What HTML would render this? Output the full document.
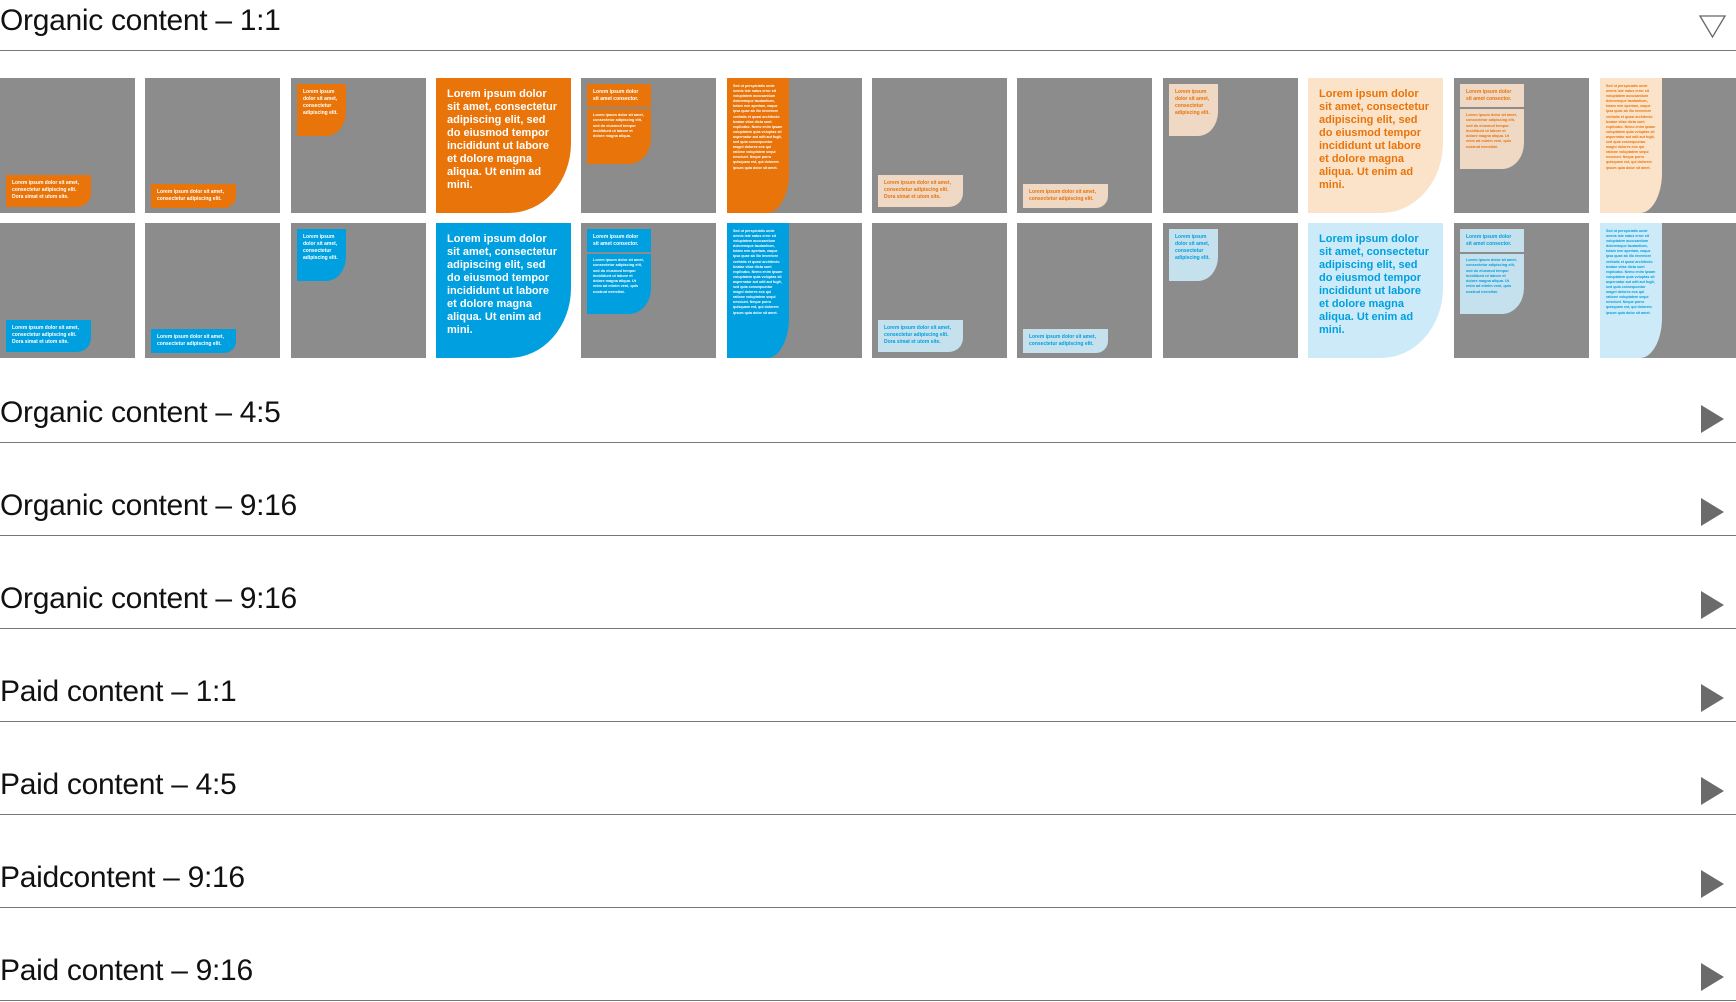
<!DOCTYPE html>
<html><head><meta charset="utf-8">
<style>
body{margin:0;width:1736px;height:1002px;background:#fff;position:relative;overflow:hidden;font-family:"Liberation Sans",Arial,sans-serif}
.h{position:absolute;left:0;font-size:30px;color:#111;line-height:34px;letter-spacing:-0.3px}
.ln{position:absolute;left:0;width:1736px;height:1px;background:#777}
.play{position:absolute;left:1701px;width:0;height:0;border-top:14px solid transparent;border-bottom:14px solid transparent;border-left:23px solid #6b6b6b}
.t{position:absolute;width:135px;height:135px;background:#8c8c8c;overflow:hidden}
.b{position:absolute;overflow:hidden;font-weight:bold}
.s{font-size:5px;line-height:7px;padding:5px 6px}
.big{font-size:11px;line-height:13px;padding:10px 11px;font-weight:bold}
.tiny{font-size:3.6px;line-height:5.1px;padding:6px 6px;font-weight:bold}
.o{background:#e9740a;color:#fff}.lo{background:#fbe3ca;color:#e9740a}.to{background:#efd8c4;color:#e9740a}
.u{background:#009fdf;color:#fff}.lu{background:#cceaf7;color:#009fdf}.tu{background:#c5e1ee;color:#009fdf}
.sep{height:2px;background:#8c8c8c;margin:0 -6px}
</style></head><body>
<div class="h" style="top:4px">Organic content – 1:1</div>
<svg style="position:absolute;left:1699px;top:15px" width="28" height="24"><polygon points="1,1 26,1 13.5,22" fill="none" stroke="#666" stroke-width="1.3"/></svg>
<div class="ln" style="top:50px"></div>

<!-- Row 1 -->
<div class="t" style="left:0;top:78px"><div class="b o s" style="left:6px;top:97px;width:73px;height:22px;border-bottom-right-radius:14px">Lorem ipsum dolor sit amet, consectetur adipiscing elit. Dora simat et utom site.</div></div>
<div class="t" style="left:145px;top:78px"><div class="b o s" style="left:6px;top:106px;width:73px;height:14px;border-bottom-right-radius:12px">Lorem ipsum dolor sit amet, consectetur adipiscing elit.</div></div>
<div class="t" style="left:291px;top:78px"><div class="b o s" style="left:6px;top:6px;width:37px;height:42px;border-bottom-right-radius:20px 24px">Lorem ipsum dolor sit amet, consectetur adipiscing elit.</div></div>
<div class="t o big" style="left:436px;top:78px;width:113px;height:115px;border-bottom-right-radius:62px 70px">Lorem ipsum dolor sit amet, consectetur adipiscing elit, sed do eiusmod tempor incididunt ut labore et dolore magna aliqua. Ut enim ad mini.</div>
<div class="t" style="left:581px;top:78px"><div class="b o s" style="left:6px;top:6px;width:52px;height:70px;border-bottom-right-radius:22px 26px">Lorem ipsum dolor sit amet consector.<div class="sep" style="margin:4px -6px 4px"></div><span style="font-size:3.8px;line-height:5.3px;display:block">Lorem ipsum dolor sit amet, consectetur adipiscing elit, sed do eiusmod tempor incididunt ut labore et dolore magna aliqua.</span></div></div>
<div class="t" style="left:727px;top:78px"><div class="b o tiny" style="left:0;top:0;width:50px;height:123px;border-bottom-right-radius:22px 40px">Sed ut perspiciatis unde omnis iste natus error sit voluptatem accusantium doloremque laudantium, totam rem aperiam, eaque ipsa quae ab illo inventore veritatis et quasi architecto beatae vitae dicta sunt explicabo. Nemo enim ipsam voluptatem quia voluptas sit aspernatur aut odit aut fugit, sed quia consequuntur magni dolores eos qui ratione voluptatem sequi nesciunt. Neque porro quisquam est, qui dolorem ipsum quia dolor sit amet.</div></div>
<div class="t" style="left:872px;top:78px"><div class="b to s" style="left:6px;top:97px;width:73px;height:22px;border-bottom-right-radius:14px">Lorem ipsum dolor sit amet, consectetur adipiscing elit. Dora simat et utom site.</div></div>
<div class="t" style="left:1017px;top:78px"><div class="b to s" style="left:6px;top:106px;width:73px;height:14px;border-bottom-right-radius:12px">Lorem ipsum dolor sit amet, consectetur adipiscing elit.</div></div>
<div class="t" style="left:1163px;top:78px"><div class="b to s" style="left:6px;top:6px;width:37px;height:42px;border-bottom-right-radius:20px 24px">Lorem ipsum dolor sit amet, consectetur adipiscing elit.</div></div>
<div class="t lo big" style="left:1308px;top:78px;width:113px;height:115px;border-bottom-right-radius:62px 70px">Lorem ipsum dolor sit amet, consectetur adipiscing elit, sed do eiusmod tempor incididunt ut labore et dolore magna aliqua. Ut enim ad mini.</div>
<div class="t" style="left:1454px;top:78px"><div class="b to s" style="left:6px;top:6px;width:52px;height:75px;border-bottom-right-radius:22px 26px">Lorem ipsum dolor sit amet consector.<div class="sep" style="margin:4px -6px 4px"></div><span style="font-size:3.8px;line-height:5.3px;display:block">Lorem ipsum dolor sit amet, consectetur adipiscing elit, sed do eiusmod tempor incididunt ut labore et dolore magna aliqua. Ut enim ad minim veni, quis nostrud exercitat.</span></div></div>
<div class="t" style="left:1600px;top:78px;width:136px"><div class="b lo tiny" style="left:0;top:0;width:50px;height:123px;border-bottom-right-radius:22px 40px">Sed ut perspiciatis unde omnis iste natus error sit voluptatem accusantium doloremque laudantium, totam rem aperiam, eaque ipsa quae ab illo inventore veritatis et quasi architecto beatae vitae dicta sunt explicabo. Nemo enim ipsam voluptatem quia voluptas sit aspernatur aut odit aut fugit, sed quia consequuntur magni dolores eos qui ratione voluptatem sequi nesciunt. Neque porro quisquam est, qui dolorem ipsum quia dolor sit amet.</div></div>

<!-- Row 2 -->
<div class="t" style="left:0;top:223px"><div class="b u s" style="left:6px;top:97px;width:73px;height:22px;border-bottom-right-radius:14px">Lorem ipsum dolor sit amet, consectetur adipiscing elit. Dora simat et utom site.</div></div>
<div class="t" style="left:145px;top:223px"><div class="b u s" style="left:6px;top:106px;width:73px;height:14px;border-bottom-right-radius:12px">Lorem ipsum dolor sit amet, consectetur adipiscing elit.</div></div>
<div class="t" style="left:291px;top:223px"><div class="b u s" style="left:6px;top:6px;width:37px;height:42px;border-bottom-right-radius:20px 24px">Lorem ipsum dolor sit amet, consectetur adipiscing elit.</div></div>
<div class="t u big" style="left:436px;top:223px;width:113px;height:115px;border-bottom-right-radius:62px 70px">Lorem ipsum dolor sit amet, consectetur adipiscing elit, sed do eiusmod tempor incididunt ut labore et dolore magna aliqua. Ut enim ad mini.</div>
<div class="t" style="left:581px;top:223px"><div class="b u s" style="left:6px;top:6px;width:52px;height:75px;border-bottom-right-radius:22px 26px">Lorem ipsum dolor sit amet consector.<div class="sep" style="margin:4px -6px 4px"></div><span style="font-size:3.8px;line-height:5.3px;display:block">Lorem ipsum dolor sit amet, consectetur adipiscing elit, sed do eiusmod tempor incididunt ut labore et dolore magna aliqua. Ut enim ad minim veni, quis nostrud exercitat.</span></div></div>
<div class="t" style="left:727px;top:223px"><div class="b u tiny" style="left:0;top:0;width:50px;height:123px;border-bottom-right-radius:22px 40px">Sed ut perspiciatis unde omnis iste natus error sit voluptatem accusantium doloremque laudantium, totam rem aperiam, eaque ipsa quae ab illo inventore veritatis et quasi architecto beatae vitae dicta sunt explicabo. Nemo enim ipsam voluptatem quia voluptas sit aspernatur aut odit aut fugit, sed quia consequuntur magni dolores eos qui ratione voluptatem sequi nesciunt. Neque porro quisquam est, qui dolorem ipsum quia dolor sit amet.</div></div>
<div class="t" style="left:872px;top:223px"><div class="b tu s" style="left:6px;top:97px;width:73px;height:22px;border-bottom-right-radius:14px">Lorem ipsum dolor sit amet, consectetur adipiscing elit. Dora simat et utom site.</div></div>
<div class="t" style="left:1017px;top:223px"><div class="b tu s" style="left:6px;top:106px;width:73px;height:14px;border-bottom-right-radius:12px">Lorem ipsum dolor sit amet, consectetur adipiscing elit.</div></div>
<div class="t" style="left:1163px;top:223px"><div class="b tu s" style="left:6px;top:6px;width:37px;height:42px;border-bottom-right-radius:20px 24px">Lorem ipsum dolor sit amet, consectetur adipiscing elit.</div></div>
<div class="t lu big" style="left:1308px;top:223px;width:113px;height:115px;border-bottom-right-radius:62px 70px">Lorem ipsum dolor sit amet, consectetur adipiscing elit, sed do eiusmod tempor incididunt ut labore et dolore magna aliqua. Ut enim ad mini.</div>
<div class="t" style="left:1454px;top:223px"><div class="b tu s" style="left:6px;top:6px;width:52px;height:75px;border-bottom-right-radius:22px 26px">Lorem ipsum dolor sit amet consector.<div class="sep" style="margin:4px -6px 4px"></div><span style="font-size:3.8px;line-height:5.3px;display:block">Lorem ipsum dolor sit amet, consectetur adipiscing elit, sed do eiusmod tempor incididunt ut labore et dolore magna aliqua. Ut enim ad minim veni, quis nostrud exercitat.</span></div></div>
<div class="t" style="left:1600px;top:223px;width:136px"><div class="b lu tiny" style="left:0;top:0;width:50px;height:123px;border-bottom-right-radius:22px 40px">Sed ut perspiciatis unde omnis iste natus error sit voluptatem accusantium doloremque laudantium, totam rem aperiam, eaque ipsa quae ab illo inventore veritatis et quasi architecto beatae vitae dicta sunt explicabo. Nemo enim ipsam voluptatem quia voluptas sit aspernatur aut odit aut fugit, sed quia consequuntur magni dolores eos qui ratione voluptatem sequi nesciunt. Neque porro quisquam est, qui dolorem ipsum quia dolor sit amet.</div></div>

<!-- Collapsed sections -->
<div class="h" style="top:396px">Organic content – 4:5</div><div class="play" style="top:405px"></div><div class="ln" style="top:442px"></div>
<div class="h" style="top:489px">Organic content – 9:16</div><div class="play" style="top:498px"></div><div class="ln" style="top:535px"></div>
<div class="h" style="top:582px">Organic content – 9:16</div><div class="play" style="top:591px"></div><div class="ln" style="top:628px"></div>
<div class="h" style="top:675px">Paid content – 1:1</div><div class="play" style="top:684px"></div><div class="ln" style="top:721px"></div>
<div class="h" style="top:768px">Paid content – 4:5</div><div class="play" style="top:777px"></div><div class="ln" style="top:814px"></div>
<div class="h" style="top:861px">Paidcontent – 9:16</div><div class="play" style="top:870px"></div><div class="ln" style="top:907px"></div>
<div class="h" style="top:954px">Paid content – 9:16</div><div class="play" style="top:963px"></div><div class="ln" style="top:1000px"></div>
</body></html>
